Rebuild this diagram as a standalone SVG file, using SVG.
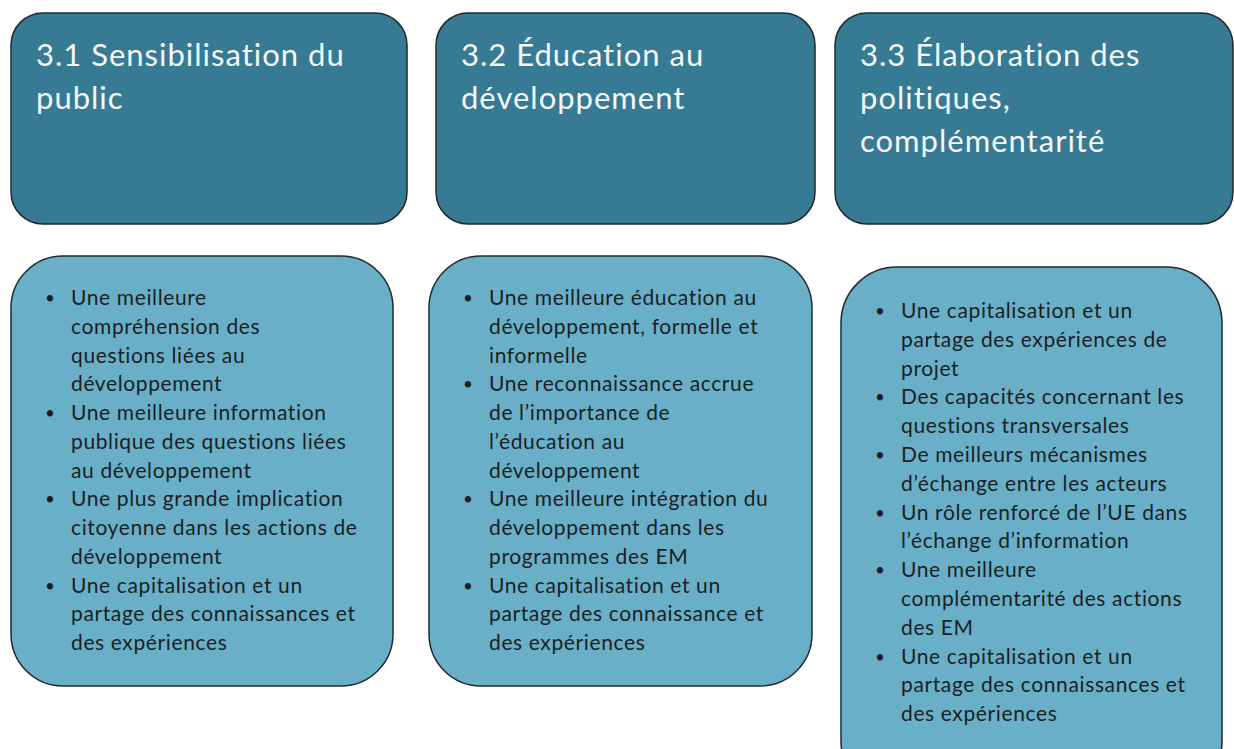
<svg xmlns="http://www.w3.org/2000/svg" width="1234" height="749" viewBox="0 0 1234 749">
<style>
.hd{fill:#367A93;stroke:#1e2a30;stroke-width:1.5}
.bd{fill:#6AAFC8;stroke:#1e2a30;stroke-width:1.5}
.ht{font-family:Lato,"Open Sans","Liberation Sans",sans-serif;font-size:31px;letter-spacing:1px;fill:#F4F8FA}
.bt{font-family:Lato,"Open Sans","Liberation Sans",sans-serif;font-size:21px;letter-spacing:0.62px;fill:#1a1f24}
.bu{font-family:Lato,"Open Sans","Liberation Sans",sans-serif;font-size:17px;fill:#1a1f24}
</style>
<rect width="1234" height="749" fill="#ffffff"/>
<g id="head1"><rect class="hd" x="11" y="13" width="396" height="211" rx="32"/>
<text class="ht" x="36" y="66">3.1 Sensibilisation du</text>
<text class="ht" x="36" y="109">public</text></g>
<g id="head2"><rect class="hd" x="436" y="13" width="379" height="211" rx="32"/>
<text class="ht" x="461" y="66">3.2 Éducation au</text>
<text class="ht" x="461" y="109">développement</text></g>
<g id="head3"><rect class="hd" x="835" y="13" width="398" height="211" rx="32"/>
<text class="ht" x="860" y="66">3.3 Élaboration des</text>
<text class="ht" x="860" y="109">politiques,</text>
<text class="ht" x="860" y="152">complémentarité</text></g>
<g id="body1"><rect class="bd" x="11" y="256" width="382" height="430" rx="52"/>
<g class="bu">
<text x="45" y="304">•</text><text x="45" y="419">•</text><text x="45" y="505.25">•</text><text x="45" y="591.5">•</text>
</g>
<g class="bt">
<text x="71" y="305">Une meilleure</text>
<text x="71" y="333.75">compréhension des</text>
<text x="71" y="362.5">questions liées au</text>
<text x="71" y="391.25">développement</text>
<text x="71" y="420">Une meilleure information</text>
<text x="71" y="448.75">publique des questions liées</text>
<text x="71" y="477.5">au développement</text>
<text x="71" y="506.25">Une plus grande implication</text>
<text x="71" y="535">citoyenne dans les actions de</text>
<text x="71" y="563.75">développement</text>
<text x="71" y="592.5">Une capitalisation et un</text>
<text x="71" y="621.25">partage des connaissances et</text>
<text x="71" y="650">des expériences</text>
</g></g>
<g id="body2"><rect class="bd" x="429" y="256" width="383" height="430" rx="52"/>
<g class="bu">
<text x="463" y="304">•</text><text x="463" y="390.25">•</text><text x="463" y="505.25">•</text><text x="463" y="591.5">•</text>
</g>
<g class="bt">
<text x="489" y="305">Une meilleure éducation au</text>
<text x="489" y="333.75">développement, formelle et</text>
<text x="489" y="362.5">informelle</text>
<text x="489" y="391.25">Une reconnaissance accrue</text>
<text x="489" y="420">de l’importance de</text>
<text x="489" y="448.75">l’éducation au</text>
<text x="489" y="477.5">développement</text>
<text x="489" y="506.25">Une meilleure intégration du</text>
<text x="489" y="535">développement dans les</text>
<text x="489" y="563.75">programmes des EM</text>
<text x="489" y="592.5">Une capitalisation et un</text>
<text x="489" y="621.25">partage des connaissance et</text>
<text x="489" y="650">des expériences</text>
</g></g>
<g id="body3"><rect class="bd" x="841" y="267" width="381" height="530" rx="56"/>
<g class="bu">
<text x="875" y="317">•</text><text x="875" y="403.4">•</text><text x="875" y="461">•</text><text x="875" y="518.6">•</text><text x="875" y="576.2">•</text><text x="875" y="662.6">•</text>
</g>
<g class="bt">
<text x="901" y="318">Une capitalisation et un</text>
<text x="901" y="346.8">partage des expériences de</text>
<text x="901" y="375.6">projet</text>
<text x="901" y="404.4">Des capacités concernant les</text>
<text x="901" y="433.2">questions transversales</text>
<text x="901" y="462">De meilleurs mécanismes</text>
<text x="901" y="490.8">d’échange entre les acteurs</text>
<text x="901" y="519.6">Un rôle renforcé de l’UE dans</text>
<text x="901" y="548.4">l’échange d’information</text>
<text x="901" y="577.2">Une meilleure</text>
<text x="901" y="606">complémentarité des actions</text>
<text x="901" y="634.8">des EM</text>
<text x="901" y="663.6">Une capitalisation et un</text>
<text x="901" y="692.4">partage des connaissances et</text>
<text x="901" y="721.2">des expériences</text>
</g></g>
</svg>
